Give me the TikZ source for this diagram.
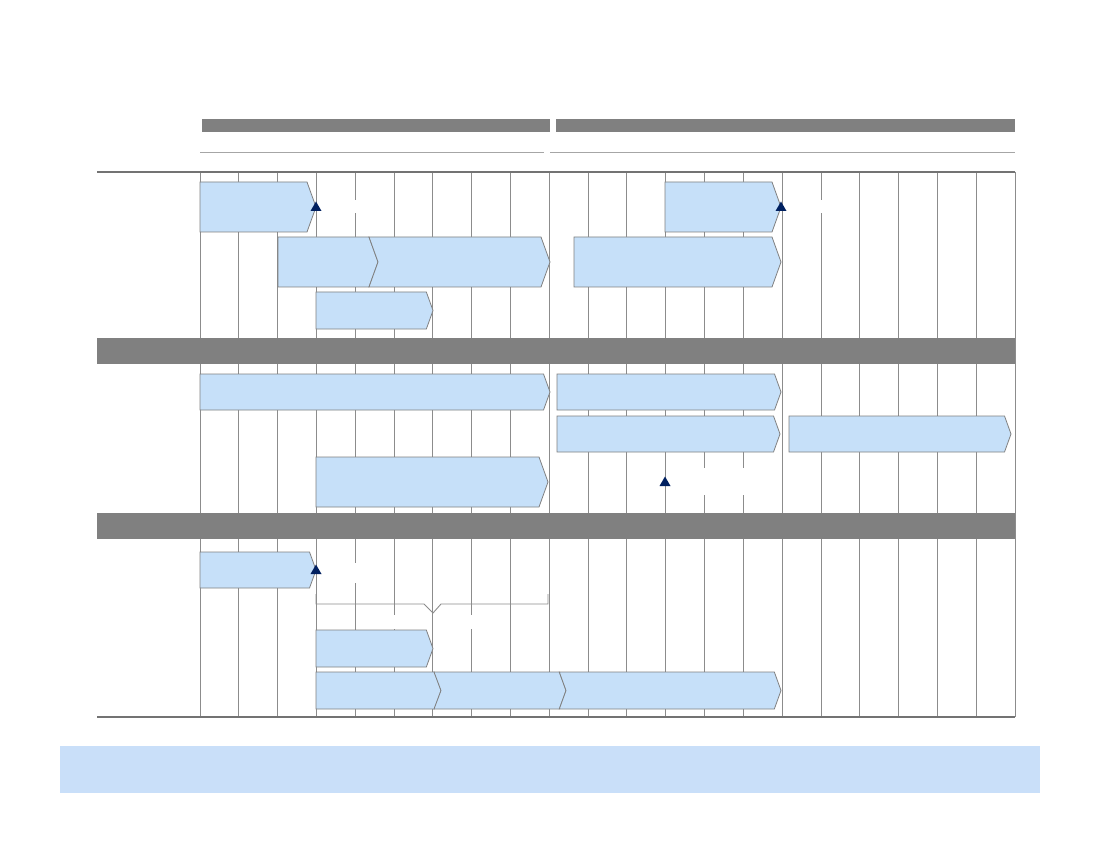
\documentclass[tikz,border=0pt]{standalone}
\usepackage{tikz}
\usetikzlibrary{calc}

\definecolor{barfill}{RGB}{198,224,249}
\definecolor{bandfill}{RGB}{201,223,249}
\definecolor{navy}{RGB}{0,32,96}
\definecolor{headgray}{RGB}{128,128,128}

% chevron bar: start x, tip x, top y, bottom y, left notch depth
\newcommand{\phase}[5]{%
  \draw[phasebox] (#1,#3) -- ({#2-0.18*(#4-#3)},#3) -- (#2,{(#3+#4)/2})
    -- ({#2-0.18*(#4-#3)},#4) -- (#1,#4) -- ({#1+#5},{(#3+#4)/2}) -- cycle;}
% milestone triangle at tip
\newcommand{\milestone}[2]{%
  \fill[navy] (#1,{#2-5.5}) -- ({#1+5.5},{#2+4}) -- ({#1-5.5},{#2+4}) -- cycle;}

\begin{document}
\begin{tikzpicture}[
    x = 1pt, y = -1pt,
    phasebox/.style = {draw = black!50, fill = barfill, line width = 0.8pt,
                       line join = miter},
    gridln/.style   = {draw = black!45, line width = 0.9pt},
    rule/.style     = {draw = black!55, line width = 1.4pt},
    thinrule/.style = {draw = black!35, line width = 0.9pt},
    secbar/.style   = {fill = headgray},
    gap/.style      = {fill = white},
  ]
    \useasboundingbox (0,0) rectangle (1100,850);

    %% ── Header bars ──────────────────────────────────────────────
    \fill[secbar] (202,119) rectangle (550,132);
    \fill[secbar] (556,119) rectangle (1015,132);
    \draw[thinrule] (200,152) -- (544,152);
    \draw[thinrule] (550,152) -- (1015,152);

    %% ── Time grid ────────────────────────────────────────────────
    \foreach \i in {0,...,21}
      \draw[gridln] ({200+38.81*\i},172) -- ++(0,545);
    \draw[rule] (97,172) -- (1015,172);
    \draw[rule] (97,717) -- (1015,717);

    %% ── Section bars ─────────────────────────────────────────────
    \fill[secbar] (97,338) rectangle (1015,364);
    \fill[secbar] (97,513) rectangle (1015,539);

    %% ── Blank label spaces ───────────────────────────────────────
    \fill[gap] (330,200) rectangle (385,213);
    \fill[gap] (795,200) rectangle (850,213);
    \fill[gap] (685,468) rectangle (760,495);
    \fill[gap] (330,563) rectangle (385,583);
    \fill[gap] (388,615) rectangle (402,629);
    \fill[gap] (465,615) rectangle (480,629);

    %% ── Section 1 ────────────────────────────────────────────────
    \phase{200}{316}{182}{232}{0}
    \phase{278}{378}{237}{287}{0}
    \phase{369}{550}{237}{287}{9}
    \phase{316}{433}{292}{329}{0}
    \phase{665}{781}{182}{232}{0}
    \phase{574}{781}{237}{287}{0}
    \milestone{316}{207}
    \milestone{781}{207}

    %% ── Section 2 ────────────────────────────────────────────────
    \phase{200}{550}{374}{410}{0}
    \phase{557}{781}{374}{410}{0}
    \phase{557}{780}{416}{452}{0}
    \phase{789}{1011}{416}{452}{0}
    \phase{316}{548}{457}{507}{0}
    \milestone{665}{482}

    %% ── Section 3 ────────────────────────────────────────────────
    \phase{200}{316}{552}{588}{0}
    \milestone{316}{570}
    \draw[gridln] (316,594) -- (316,604) -- (424,604) -- (433,613)
      -- (441,604) -- (548,604) -- (548,594);
    \phase{316}{433}{630}{667}{0}
    \phase{316}{441}{672}{709}{0}
    \phase{434}{566}{672}{709}{7}
    \phase{559.3}{781}{672}{709}{6.7}

    %% ── Footer band ──────────────────────────────────────────────
    \fill[bandfill] (60,746) rectangle (1040,793);
  \end{tikzpicture}
\end{document}
